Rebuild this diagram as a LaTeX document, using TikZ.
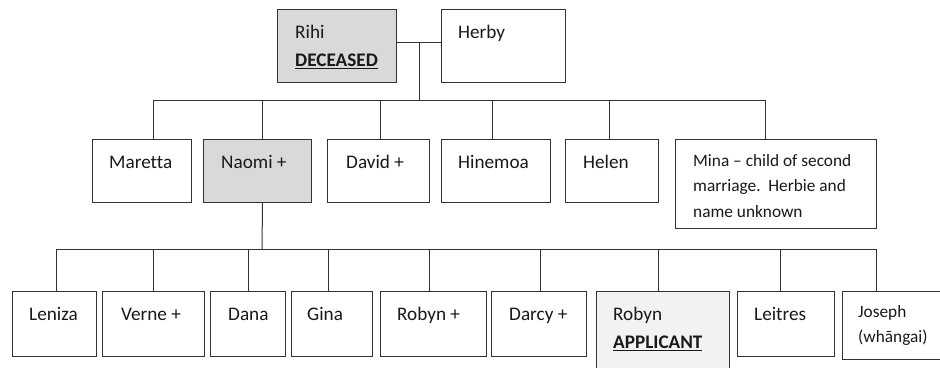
\documentclass[tikz,border=0pt]{standalone}
\usepackage{fontspec}
\setmainfont{Carlito}[Ligatures=NoCommon]
\definecolor{deadgrey}{HTML}{D9D9D9}
\definecolor{appgrey}{HTML}{F2F2F2}
\definecolor{linegrey}{HTML}{333333}

\tikzset{
  person/.style={draw=linegrey, line width=1pt, anchor=north west, inner sep=0pt, fill=white},
  who/.style={anchor=north west, inner sep=0pt, align=left, text=black!90, font=\fontsize{19.2}{28}\selectfont},
  whosmall/.style={who, font=\fontsize{17.3}{25.5}\selectfont},
  line/.style={draw=linegrey, line width=1pt}
}

\begin{document}
\begin{tikzpicture}[x=1pt,y=-1pt]
\useasboundingbox (0,0) rectangle (940,367);
\clip (0,0) rectangle (940,367);

% parents
\node[person, fill=deadgrey, minimum width=119pt, minimum height=73pt] (rihi) at (277,9) {};
\node[person, minimum width=124pt, minimum height=73pt] (herby) at (441,9) {};

% children
\node[person, minimum width=99pt, minimum height=63pt] (maretta) at (92,139) {};
\node[person, fill=deadgrey, minimum width=108pt, minimum height=63pt] (naomi) at (203,139) {};
\node[person, minimum width=102pt, minimum height=63pt] (david) at (327,139) {};
\node[person, minimum width=109pt, minimum height=63pt] (hinemoa) at (441,139) {};
\node[person, minimum width=93pt, minimum height=63pt] (helen) at (565,139) {};
\node[person, minimum width=201pt, minimum height=89pt] (mina) at (675,139) {};

% grandchildren
\node[person, minimum width=84pt, minimum height=65pt] (leniza) at (12,291) {};
\node[person, minimum width=102pt, minimum height=65pt] (verne) at (102,291) {};
\node[person, minimum width=75pt, minimum height=65pt] (dana) at (210,291) {};
\node[person, minimum width=81pt, minimum height=65pt] (gina) at (291,291) {};
\node[person, minimum width=106pt, minimum height=65pt] (robyn) at (380,291) {};
\node[person, minimum width=95pt, minimum height=65pt] (darcy) at (491,291) {};
\node[person, fill=appgrey, minimum width=133pt, minimum height=85pt] (robynapp) at (596,291) {};
\node[person, minimum width=97pt, minimum height=65pt] (leitres) at (737,291) {};
\node[person, minimum width=105pt, minimum height=68pt] (joseph) at (842,291) {};

% names
\node[who] at ([shift={(18pt,-9.5pt)}]rihi.north west) {\strut Rihi\\\strut\textbf{\underline{DECEASED}}};
\node[who] at ([shift={(17pt,-9.5pt)}]herby.north west) {\strut Herby};
\node[who] at ([shift={(17pt,-9.5pt)}]maretta.north west) {\strut Maretta};
\node[who] at ([shift={(18pt,-9.5pt)}]naomi.north west) {\strut Naomi +};
\node[who] at ([shift={(19pt,-9.5pt)}]david.north west) {\strut David +};
\node[who] at ([shift={(17pt,-9.5pt)}]hinemoa.north west) {\strut Hinemoa};
\node[who] at ([shift={(18pt,-9.5pt)}]helen.north west) {\strut Helen};
\node[whosmall] at ([shift={(18pt,-9pt)}]mina.north west) {\strut Mina -- child of second\\\strut marriage.\ \ Herbie and\\\strut name unknown};
\node[who] at ([shift={(17pt,-9.5pt)}]leniza.north west) {\strut Leniza};
\node[who] at ([shift={(19pt,-9.5pt)}]verne.north west) {\strut Verne +};
\node[who] at ([shift={(18pt,-9.5pt)}]dana.north west) {\strut Dana};
\node[who] at ([shift={(16pt,-9.5pt)}]gina.north west) {\strut Gina};
\node[who] at ([shift={(17pt,-9.5pt)}]robyn.north west) {\strut Robyn +};
\node[who] at ([shift={(18pt,-9.5pt)}]darcy.north west) {\strut Darcy +};
\node[who] at ([shift={(17pt,-9.5pt)}]robynapp.north west) {\strut Robyn\\\strut\textbf{\underline{APPLICANT}}};
\node[who] at ([shift={(17pt,-9.5pt)}]leitres.north west) {\strut Leitres};
\node[whosmall] at ([shift={(16pt,-8pt)}]joseph.north west) {\strut Joseph\\\strut (whāngai)};

% lines
\coordinate (wed) at (419,42);
\coordinate (bus1) at (419,100);
\coordinate (bus2) at (262,249);
\draw[line] (rihi.east |- wed) -- (herby.west |- wed);
\draw[line] (wed) -- (bus1);
\foreach \c/\dx in {maretta/11.5, naomi/5, david/2, hinemoa/-3.5, helen/-2.5, mina/-10.5}
  \draw[line] (bus1) -| ([xshift=\dx pt]\c.north);
\draw[line] ([xshift=5pt]naomi.south) -- (bus2);
\foreach \c/\dx in {leniza/2, verne/0, dana/0, gina/-3.5, robyn/-4, darcy/1.5, robynapp/-4.5, leitres/-5.5, joseph/-18.5}
  \draw[line] (bus2) -| ([xshift=\dx pt]\c.north);
\end{tikzpicture}
\end{document}
